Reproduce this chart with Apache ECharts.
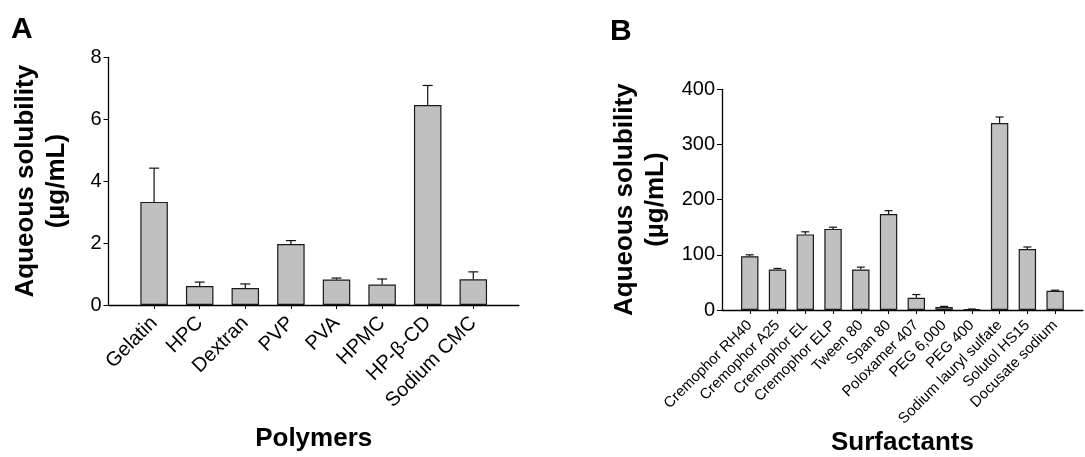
<!DOCTYPE html>
<html>
<head>
<meta charset="utf-8">
<script src="https://cdn.jsdelivr.net/npm/echarts@6/dist/echarts.min.js"></script>
<style>
html,body{margin:0;padding:0;background:#fff;}
#c{width:1085px;height:457px;}
</style>
</head>
<body>
<div id="c"></div>
<script>
// ---- Data ----
const polymerNames = ['Gelatin', 'HPC', 'Dextran', 'PVP', 'PVA', 'HPMC', 'HP-β-CD', 'Sodium CMC'];
const polymerMeans = [3.33, 0.61, 0.55, 1.97, 0.82, 0.66, 6.46, 0.83];
const polymerSD    = [1.09, 0.13, 0.13, 0.11, 0.05, 0.18, 0.63, 0.24];
const polymerTicks = [0, 2, 4, 6, 8];

const surfNames = ['Cremophor RH40', 'Cremophor A25', 'Cremophor EL', 'Cremophor ELP', 'Tween 80', 'Span 80',
  'Poloxamer 407', 'PEG 6,000', 'PEG 400', 'Sodium lauryl sulfate', 'Solutol HS15', 'Docusate sodium'];
const surfMeans = [97.5, 73.5, 137, 147, 73.5, 174, 22, 5.4, 1.2, 339, 110.6, 34.7];
const surfSD    = [2.5, 1.8, 4.7, 3.0, 4.2, 6.0, 6.0, 1.2, 0.6, 10.8, 3.6, 1.2];
const surfTicks = [0, 100, 200, 300, 400];

// ---- Build ----
const FONT = '"Liberation Sans", Arial, sans-serif';
const pad = arr => [''].concat(arr, ['']);
const padVals = arr => ['-'].concat(arr, ['-']);
const errData = (means, sd) => means.map((m, i) => [i + 1, m, m + sd[i]]);

function errRender(capHalf) {
  return function (params, api) {
    const x = api.value(0);
    const p0 = api.coord([x, api.value(1)]);
    const p1 = api.coord([x, api.value(2)]);
    const st = { stroke: '#111', lineWidth: 1.2 };
    return {
      type: 'group',
      children: [
        { type: 'line', shape: { x1: p0[0], y1: p0[1], x2: p1[0], y2: p1[1] }, style: st },
        { type: 'line', shape: { x1: p1[0] - capHalf, y1: p1[1], x2: p1[0] + capHalf, y2: p1[1] }, style: st }
      ]
    };
  };
}

function xAxisCfg(gridIndex, names, name, fontSize, nameGap, margin) {
  return {
    type: 'category', gridIndex: gridIndex, data: pad(names), boundaryGap: false,
    name: name, nameLocation: 'middle', nameGap: nameGap,
    nameTextStyle: { fontFamily: FONT, fontWeight: 'bold', fontSize: 26, color: '#000' },
    axisLine: { lineStyle: { color: '#000', width: 1.3 } },
    axisTick: { length: 4, lineStyle: { color: '#000', width: 1 },
      interval: function (i, v) { return v !== ''; } },
    axisLabel: { interval: 0, rotate: 45, margin: margin,
      color: '#000', fontFamily: FONT, fontSize: fontSize }
  };
}

function yAxisCfg(gridIndex, ticks, nameGap) {
  return {
    type: 'value', gridIndex: gridIndex, min: ticks[0], max: ticks[ticks.length - 1],
    interval: ticks[1] - ticks[0],
    name: 'Aqueous solubility\n(µg/mL)', nameLocation: 'middle', nameGap: nameGap, nameRotate: 90,
    nameTextStyle: { fontFamily: FONT, fontWeight: 'bold', fontSize: 26, lineHeight: 31, color: '#000' },
    splitLine: { show: false },
    axisLine: { show: true, lineStyle: { color: '#000', width: 1.3 } },
    axisTick: { show: true, length: 5, lineStyle: { color: '#000', width: 1 } },
    axisLabel: { color: '#000', fontFamily: FONT, fontSize: 20, margin: 7 }
  };
}

const barStyle = { color: '#c0c0c0', borderColor: '#1a1a1a', borderWidth: 1.2 };

const option = {
  animation: false,
  backgroundColor: '#fff',
  title: [
    { text: 'A', left: 6, top: 10, textStyle: { fontFamily: FONT, fontWeight: 'bold', fontSize: 30, color: '#000' } },
    { text: 'B', left: 605, top: 12, textStyle: { fontFamily: FONT, fontWeight: 'bold', fontSize: 30, color: '#000' } }
  ],
  grid: [
    { left: 108.5, top: 57.3, width: 410.4, height: 255 },
    { left: 722, top: 89.3, width: 370.5, height: 223 }
  ],
  xAxis: [
    xAxisCfg(0, polymerNames, 'Polymers', 20, 121, 15),
    xAxisCfg(1, surfNames, 'Surfactants', 15, 120, 13)
  ],
  yAxis: [
    yAxisCfg(0, polymerTicks, 36),
    yAxisCfg(1, surfTicks, 51)
  ],
  series: [
    { type: 'bar', xAxisIndex: 0, yAxisIndex: 0, data: padVals(polymerMeans), barWidth: 27.5, itemStyle: barStyle },
    { type: 'custom', xAxisIndex: 0, yAxisIndex: 0, data: errData(polymerMeans, polymerSD), renderItem: errRender(5), z: 3 },
    { type: 'bar', xAxisIndex: 1, yAxisIndex: 1, data: padVals(surfMeans), barWidth: 17.4, itemStyle: barStyle },
    { type: 'custom', xAxisIndex: 1, yAxisIndex: 1, data: errData(surfMeans, surfSD), renderItem: errRender(4), z: 3 }
  ]
};

const chart = echarts.init(document.getElementById('c'), null, { renderer: 'canvas' });
chart.setOption(option);
</script>
</body>
</html>
